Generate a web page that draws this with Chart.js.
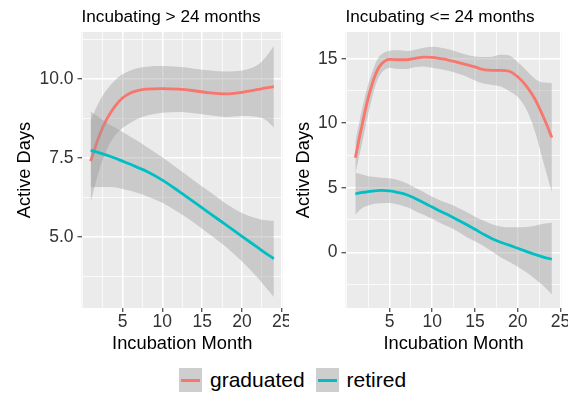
<!DOCTYPE html>
<html><head><meta charset="utf-8">
<script src="https://cdn.jsdelivr.net/npm/chart.js@4.4.1/dist/chart.umd.min.js"></script>
<style>
html,body{margin:0;padding:0;background:#fff;width:577px;height:394px;overflow:hidden;font-family:"Liberation Sans",Arial,sans-serif;}
.wrap{position:absolute;top:0;width:289px;height:360px;}
#legend{position:absolute;left:179px;top:368px;height:24px;display:flex;align-items:center;}
#legend .key{width:23px;height:24px;background:#CECECE;position:relative;display:inline-block;}
#legend .key i{position:absolute;left:2px;right:2px;top:10.5px;height:3px;}
#legend .lt{font-size:21px;color:#000;margin-left:8px;margin-right:11px;line-height:24px;}
</style>
</head><body>
<div class="wrap" style="left:0px"><canvas id="c1" width="289" height="360"></canvas></div>
<div class="wrap" style="left:279px"><canvas id="c2" width="289" height="360"></canvas></div>
<div id="legend"></div>
<script>
// ---------- data ----------
const SERIES = ['graduated', 'retired'];
const COLORS = ['#F8766D', '#00BFC4'];
const TITLES = ['Incubating > 24 months', 'Incubating <= 24 months'];

const X_MAJOR = [5, 10, 15, 20, 25];
const X_MAJOR_LABELS = ['5', '10', '15', '20', '25'];
const X_MINOR = [0, 2.5, 7.5, 12.5, 17.5, 22.5];

const YL_MAJOR = [5.0, 7.5, 10.0];
const YL_MAJOR_LABELS = ['5.0', '7.5', '10.0'];
const YL_MINOR = [3.75, 6.25, 8.75, 11.25];
const YR_MAJOR = [0, 5, 10, 15];
const YR_MAJOR_LABELS = ['0', '5', '10', '15'];
const YR_MINOR = [-2.5, 2.5, 7.5, 12.5];

// Left panel: Incubating > 24 months
const X_LEFT = [1, 2, 3, 4, 5, 6, 7, 8, 10, 12, 14, 16, 18, 20, 22, 23, 24];
const L_GRAD    = [7.40, 8.15, 8.72, 9.12, 9.40, 9.56, 9.64, 9.68, 9.70, 9.68, 9.63, 9.56, 9.53, 9.58, 9.67, 9.72, 9.76];
const L_GRAD_HI = [8.70, 9.25, 9.65, 9.95, 10.15, 10.27, 10.35, 10.39, 10.41, 10.39, 10.33, 10.27, 10.24, 10.27, 10.45, 10.70, 11.05];
const L_GRAD_LO = [6.10, 7.05, 7.75, 8.20, 8.45, 8.62, 8.75, 8.84, 8.93, 8.96, 8.92, 8.85, 8.80, 8.83, 8.80, 8.70, 8.46];
const L_RET     = [7.74, 7.67, 7.59, 7.50, 7.40, 7.30, 7.19, 7.08, 6.80, 6.46, 6.10, 5.74, 5.38, 5.02, 4.66, 4.48, 4.31];
const L_RET_HI  = [8.97, 8.80, 8.62, 8.47, 8.32, 8.17, 8.02, 7.86, 7.52, 7.15, 6.78, 6.42, 6.05, 5.76, 5.58, 5.53, 5.51];
const L_RET_LO  = [6.57, 6.58, 6.58, 6.57, 6.52, 6.46, 6.38, 6.30, 6.08, 5.78, 5.45, 5.07, 4.68, 4.22, 3.70, 3.40, 3.10];

// Right panel: Incubating <= 24 months
const X_RIGHT = [1, 1.5, 2, 2.5, 3, 3.5, 4, 5, 6, 7, 8, 9, 10, 11, 12, 13, 14, 15, 16, 17, 18, 19, 20, 21, 22, 23, 24];
const R_GRAD    = [7.33, 8.95, 10.5, 11.95, 13.1, 14.0, 14.55, 14.95, 14.92, 14.92, 15.03, 15.12, 15.1, 15.0, 14.88, 14.72, 14.54, 14.36, 14.15, 14.1, 14.1, 14.03, 13.6, 12.9, 11.9, 10.5, 8.9];
const R_GRAD_HI = [8.6, 10.2, 11.7, 13.0, 14.0, 14.85, 15.3, 15.62, 15.65, 15.6, 15.7, 15.85, 15.92, 15.85, 15.72, 15.5, 15.3, 15.18, 15.13, 15.15, 15.3, 15.25, 14.74, 14.1, 13.45, 13.15, 13.12];
const R_GRAD_LO = [6.1, 7.6, 9.1, 10.7, 12.1, 13.2, 13.85, 14.3, 14.2, 14.2, 14.35, 14.4, 14.3, 14.18, 14.05, 13.85, 13.62, 13.32, 13.08, 12.97, 12.85, 12.5, 12.04, 11.1, 9.4, 7.0, 4.65];
const R_RET     = [4.53, 4.6, 4.65, 4.7, 4.74, 4.77, 4.79, 4.75, 4.63, 4.46, 4.17, 3.83, 3.5, 3.15, 2.85, 2.5, 2.15, 1.78, 1.4, 1.05, 0.78, 0.55, 0.31, 0.07, -0.17, -0.37, -0.54];
const R_RET_HI  = [6.18, 6.08, 5.98, 5.9, 5.85, 5.81, 5.78, 5.74, 5.6, 5.35, 5.0, 4.67, 4.3, 4.0, 3.75, 3.45, 3.12, 2.76, 2.47, 2.18, 2.0, 1.93, 1.93, 1.96, 2.06, 2.2, 2.29];
const R_RET_LO  = [2.88, 3.25, 3.5, 3.63, 3.72, 3.77, 3.8, 3.81, 3.7, 3.5, 3.2, 2.9, 2.6, 2.25, 1.95, 1.6, 1.18, 0.85, 0.48, 0.06, -0.38, -0.73, -1.13, -1.55, -2.05, -2.6, -3.27];

// ---------- rendering ----------
const FONT = '"Liberation Sans", Arial, sans-serif';
const RIBBON = 'rgba(153,153,153,0.4)';
const NONE = 'rgba(0,0,0,0)';

function pts(xs, ys) { return xs.map((x, i) => ({x: x, y: ys[i]})); }

const panelPlugin = {
  id: 'panel',
  beforeDraw(chart) {
    const {ctx, chartArea: a} = chart;
    ctx.save();
    ctx.fillStyle = '#EBEBEB';
    ctx.fillRect(a.left, a.top, a.right - a.left, a.bottom - a.top);
    ctx.restore();
  },
  afterDraw(chart, args, opts) {
    const {ctx, chartArea: a} = chart;
    ctx.save();
    ctx.font = '17.2px ' + FONT;
    ctx.fillStyle = '#000';
    ctx.textBaseline = 'middle';
    ctx.textAlign = 'left';
    ctx.fillText(opts.text, a.left, 17.5);
    ctx.restore();
  }
};

function build(id, o) {
  const ds = (data, extra) => Object.assign({
    data: data, pointRadius: 0, pointHoverRadius: 0, borderWidth: 0, borderColor: NONE,
    fill: false, cubicInterpolationMode: 'monotone'
  }, extra);
  const datasets = [
    ds(pts(o.xs, o.gradLo), {label: 'gLo', order: 6}),
    ds(pts(o.xs, o.gradHi), {label: 'gHi', order: 5, fill: '-1', backgroundColor: RIBBON}),
    ds(pts(o.xs, o.grad), {label: SERIES[0], order: 4, borderColor: COLORS[0], borderWidth: 2.8}),
    ds(pts(o.xs, o.retLo), {label: 'rLo', order: 3}),
    ds(pts(o.xs, o.retHi), {label: 'rHi', order: 2, fill: '-1', backgroundColor: RIBBON}),
    ds(pts(o.xs, o.ret), {label: SERIES[1], order: 1, borderColor: COLORS[1], borderWidth: 2.8})
  ];
  const isMajor = (arr, v) => arr.some(m => Math.abs(m - v) < 1e-9);
  new Chart(document.getElementById(id), {
    type: 'line',
    data: {datasets: datasets},
    plugins: [panelPlugin],
    options: {
      responsive: false, animation: false, devicePixelRatio: 1,
      layout: {padding: {top: 32, right: o.padRight, left: 0, bottom: 0}},
      plugins: {legend: {display: false}, tooltip: {enabled: false}, panel: {text: o.title}},
      scales: {
        x: {
          type: 'linear', min: -0.15, max: 25.15,
          afterBuildTicks: s => { s.ticks = X_MINOR.concat(X_MAJOR).sort((a, b) => a - b).map(v => ({value: v})); },
          afterFit: s => { s.height = 52; s.paddingLeft = 0; s.paddingRight = 0; },
          border: {display: false},
          grid: {
            color: '#FFFFFF',
            lineWidth: c => isMajor(X_MAJOR, c.tick.value) ? 1.5 : 0.75,
            drawTicks: true, tickLength: 4,
            tickColor: c => isMajor(X_MAJOR, c.tick.value) ? '#333333' : NONE,
            tickWidth: 1.1
          },
          ticks: {
            autoSkip: false, maxRotation: 0, padding: 0, color: '#333333',
            font: {family: FONT, size: 17.5},
            callback: v => { const i = X_MAJOR.findIndex(m => Math.abs(m - v) < 1e-9); return i >= 0 ? X_MAJOR_LABELS[i] : ''; }
          },
          title: {display: true, text: 'Incubation Month', color: '#000', font: {family: FONT, size: 18.3}, padding: {top: 0, bottom: 5}}
        },
        y: {
          type: 'linear', min: o.yMin, max: o.yMax,
          afterBuildTicks: s => { s.ticks = o.yMinor.concat(o.yMajor).sort((a, b) => a - b).map(v => ({value: v})); },
          afterFit: s => { s.width = o.yWidth; s.paddingTop = 0; s.paddingBottom = 0; },
          border: {display: false},
          grid: {
            color: '#FFFFFF',
            lineWidth: c => isMajor(o.yMajor, c.tick.value) ? 1.5 : 0.75,
            drawTicks: true, tickLength: 4,
            tickColor: c => isMajor(o.yMajor, c.tick.value) ? '#333333' : NONE,
            tickWidth: 1.1
          },
          ticks: {
            autoSkip: false, padding: 4, color: '#333333',
            font: {family: FONT, size: 17.5},
            callback: v => { const i = o.yMajor.findIndex(m => Math.abs(m - v) < 1e-9); return i >= 0 ? o.yLabels[i] : ''; }
          },
          title: {display: true, text: 'Active Days', color: '#000', font: {family: FONT, size: 18.3}, padding: {top: 13.5, bottom: 0}}
        }
      }
    }
  });
}

build('c1', {
  xs: X_LEFT, grad: L_GRAD, gradHi: L_GRAD_HI, gradLo: L_GRAD_LO, ret: L_RET, retHi: L_RET_HI, retLo: L_RET_LO,
  yMin: 2.75, yMax: 11.49, yMajor: YL_MAJOR, yLabels: YL_MAJOR_LABELS, yMinor: YL_MINOR,
  yWidth: 81.5, padRight: 6, title: TITLES[0]
});
build('c2', {
  xs: X_RIGHT, grad: R_GRAD, gradHi: R_GRAD_HI, gradLo: R_GRAD_LO, ret: R_RET, retHi: R_RET_HI, retLo: R_RET_LO,
  yMin: -4.32, yMax: 17.07, yMajor: YR_MAJOR, yLabels: YR_MAJOR_LABELS, yMinor: YR_MINOR,
  yWidth: 66.5, padRight: 6.3, title: TITLES[1]
});

// HTML legend built from the series names
const leg = document.getElementById('legend');
SERIES.forEach((name, i) => {
  const k = document.createElement('span'); k.className = 'key';
  const line = document.createElement('i'); line.style.background = COLORS[i]; k.appendChild(line);
  const t = document.createElement('span'); t.className = 'lt'; t.textContent = name;
  leg.appendChild(k); leg.appendChild(t);
});
</script>
</body></html>
